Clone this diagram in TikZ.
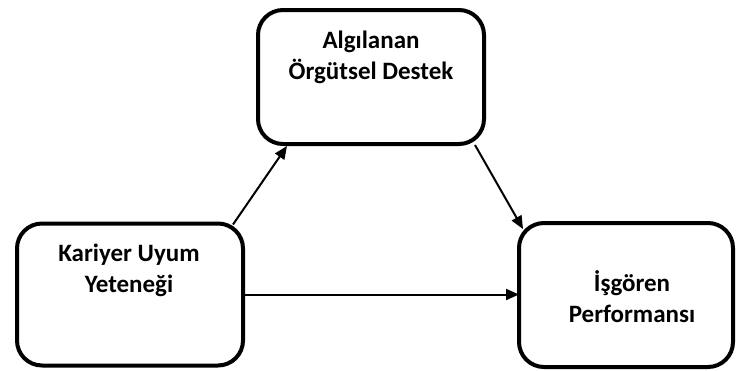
\documentclass[tikz,border=0pt]{standalone}
\usepackage{fontspec}
\setmainfont{Carlito}
\usetikzlibrary{arrows.meta}
\tikzset{
  box/.style={draw, line width=4pt, rounded corners=25pt, inner sep=0pt, outer sep=0pt},
  lbl/.style={font=\bfseries\fontsize{25}{31}\selectfont, align=center, anchor=base, inner sep=0pt},
  conn/.style={line width=2pt, -{Triangle[length=13pt,width=11pt]}}
}
\begin{document}
\begin{tikzpicture}[x=1pt,y=-1pt]
\useasboundingbox (0,0) rectangle (736,370);
\node[box, minimum width=226pt, minimum height=134pt] (top) at (371,77) {};
\node[box, minimum width=226pt, minimum height=142pt] (lft) at (130,294.5) {};
\node[box, minimum width=214pt, minimum height=144pt] (rgt) at (626,295) {};
\node[lbl] (toptxt) at (371,79) {Algılanan\\Örgütsel Destek};
\node[lbl] (lfttxt) at (129,292) {Kariyer Uyum\\Yeteneği};
\node[lbl] (rgttxt) at (632,322) {İşgören\\Performansı};
\draw[conn] ([xshift=-10pt,yshift=-1pt]lft.north east) -- ([xshift=29pt,yshift=-2pt]top.south west);
\draw[conn] ([xshift=-9pt,yshift=-1pt]top.south east) -- ([xshift=4pt,yshift=-6pt]rgt.north west);
\draw[conn] (lft.east) -- (lft.east -| rgt.west);
\end{tikzpicture}
\end{document}
